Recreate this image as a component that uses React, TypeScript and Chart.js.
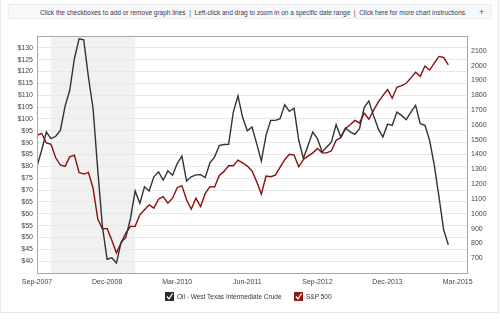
import React, { useEffect, useRef } from "react";
import { Chart, registerables } from "chart.js";

Chart.register(...registerables);

// month index 0 = Sep-2007, monthly to Jan-2015
const xTickMonths = [0, 15, 30, 45, 60, 75, 90];
const xTickLabels = ["Sep-2007", "Dec-2008", "Mar-2010", "Jun-2011", "Sep-2012", "Dec-2013", "Mar-2015"];

const oilPrices = [
  80.1, 86.8, 94.5, 91.7, 92.7, 95.2, 105.3, 112.1, 125.4, 133.8,
  133.4, 117.7, 104.3, 78.4, 54.6, 40.8, 41.4, 39.2, 48.0, 50.0,
  58.0, 69.6, 64.4, 71.4, 69.6, 75.6, 77.7, 74.2, 78.1, 76.2,
  81.2, 84.3, 73.8, 75.6, 76.4, 76.5, 75.3, 81.5, 84.0, 88.8,
  89.2, 89.3, 102.9, 109.7, 100.6, 95.0, 96.6, 89.6, 82.2, 93.1,
  99.4, 99.4, 100.1, 106.0, 103.2, 104.5, 91.0, 83.3, 88.9, 94.5,
  91.7, 86.1, 88.2, 90.3, 97.6, 92.4, 96.2, 94.5, 93.5, 95.9,
  104.8, 107.6, 101.5, 95.9, 92.4, 97.8, 97.3, 102.9, 101.5, 99.7,
  102.9, 105.7, 98.0, 97.3, 91.0, 80.5, 67.2, 53.2, 46.9,
];

const sp500 = [
  1530, 1543, 1478, 1469, 1378, 1329, 1320, 1384, 1396, 1279,
  1268, 1279, 1172, 966, 897, 901, 821, 736, 803, 870,
  915, 915, 993, 1027, 1060, 1038, 1098, 1116, 1071, 1105,
  1176, 1190, 1094, 1031, 1105, 1049, 1138, 1183, 1181, 1259,
  1286, 1324, 1324, 1362, 1344, 1322, 1289, 1217, 1132, 1255,
  1250, 1261, 1313, 1365, 1402, 1396, 1317, 1367, 1389, 1411,
  1440, 1411, 1411, 1425, 1496, 1514, 1575, 1601, 1630, 1613,
  1680, 1638, 1698, 1753, 1798, 1838, 1780, 1854, 1865, 1881,
  1917, 1955, 1928, 1997, 1970, 2017, 2062, 2055, 2005,
];

// recession shading: Dec-2007 .. Jun-2009
const recessionStart = 3;
const recessionEnd = 21;

const FONT = "'Liberation Sans', Arial, sans-serif";

const shadePlugin = {
  id: "shade",
  beforeDraw(chart: any) {
    const { ctx, chartArea, scales } = chart;
    const x0 = scales.x.getPixelForValue(recessionStart);
    const x1 = scales.x.getPixelForValue(recessionEnd);
    ctx.save();
    ctx.fillStyle = "#f1f1f1";
    ctx.fillRect(x0, chartArea.top, x1 - x0, chartArea.bottom - chartArea.top);
    ctx.restore();
  },
  afterDraw(chart: any) {
    const { ctx, chartArea } = chart;
    ctx.save();
    ctx.strokeStyle = "#a8a8a8";
    ctx.lineWidth = 1;
    ctx.strokeRect(
      Math.round(chartArea.left) + 0.5,
      Math.round(chartArea.top) + 0.5,
      Math.round(chartArea.right - chartArea.left),
      Math.round(chartArea.bottom - chartArea.top)
    );
    ctx.restore();
  },
};

function Check({ color, left }: { color: string; left: number }) {
  return (
    <svg
      width={9}
      height={9}
      style={{ position: "absolute", left, top: 292 }}
      viewBox="0 0 9 9"
    >
      <rect x={0} y={0} width={9} height={9} fill={color} />
      <polyline points="2,4.5 4,7 7.5,1.5" fill="none" stroke="#fff" strokeWidth={1.3} />
    </svg>
  );
}

export default function App() {
  const ref = useRef<HTMLCanvasElement | null>(null);

  useEffect(() => {
    if (!ref.current) return;
    const tickFont = { family: FONT, size: 7 };
    const chart = new Chart(ref.current, {
      type: "line",
      data: {
        datasets: [
          {
            label: "Oil - West Texas Intermediate Crude",
            data: oilPrices.map((v, i) => ({ x: i, y: v })),
            borderColor: "#333333",
            borderWidth: 1.4,
            pointRadius: 0,
            tension: 0,
            yAxisID: "y",
          },
          {
            label: "S&P 500",
            data: sp500.map((v, i) => ({ x: i, y: v })),
            borderColor: "#8b0e0e",
            borderWidth: 1.4,
            pointRadius: 0,
            tension: 0,
            yAxisID: "y2",
          },
        ],
      },
      options: {
        animation: false,
        responsive: false,
        maintainAspectRatio: false,
        layout: { padding: { top: 36, left: 0, right: 0, bottom: 0 } },
        plugins: {
          legend: { display: false },
          tooltip: { enabled: false },
        },
        scales: {
          x: {
            type: "linear",
            min: 0,
            max: 92,
            grid: { display: false, drawTicks: false },
            border: { display: false },
            afterBuildTicks: (scale: any) => {
              scale.ticks = xTickMonths.map((v) => ({ value: v }));
            },
            afterFit: (scale: any) => {
              scale.height = 48;
            },
            ticks: {
              font: tickFont,
              color: "#444",
              padding: 5,
              maxRotation: 0,
              autoSkip: false,
              callback: (v: any) => {
                const i = xTickMonths.indexOf(Number(v));
                return i >= 0 ? xTickLabels[i] : "";
              },
            },
          },
          y: {
            position: "left",
            min: 35,
            max: 135,
            grid: { color: "#e8e8e8", lineWidth: 1, drawTicks: false },
            border: { display: false },
            afterFit: (scale: any) => {
              scale.width = 37;
            },
            ticks: {
              stepSize: 5,
              font: tickFont,
              color: "#444",
              padding: 4,
              autoSkip: false,
              callback: (v: any) => (v === 35 || v === 135 ? "" : "$" + v),
            },
          },
          y2: {
            position: "right",
            min: 600,
            max: 2200,
            grid: { display: false, drawTicks: false },
            border: { display: false },
            afterFit: (scale: any) => {
              scale.width = 33;
            },
            ticks: {
              stepSize: 100,
              font: tickFont,
              color: "#444",
              padding: 4,
              autoSkip: false,
              callback: (v: any) => (v === 600 || v === 2200 ? "" : String(v)),
            },
          },
        },
      },
      plugins: [shadePlugin],
    } as any);
    return () => chart.destroy();
  }, []);

  return (
    <div
      style={{
        position: "fixed",
        left: 0,
        top: 0,
        width: 500,
        height: 321,
        background: "#fff",
        fontFamily: FONT,
        overflow: "hidden",
      }}
    >
      <div
        style={{
          position: "absolute",
          left: 0,
          top: 0,
          width: 497,
          height: 312,
          border: "1px solid #e9e9e9",
          borderTop: "none",
        }}
      />
      <div
        style={{
          position: "absolute",
          left: 8,
          top: 4,
          width: 484,
          height: 15,
          background: "#f7f8fa",
          border: "1px solid #ececee",
          boxSizing: "border-box",
        }}
      />
      <div
        style={{
          position: "absolute",
          left: 40,
          top: 8,
          width: 430,
          fontSize: 6.5,
          lineHeight: "9px",
          color: "#3a3a50",
          whiteSpace: "nowrap",
        }}
      >
        Click the checkboxes to add or remove graph lines&nbsp; | &nbsp;Left-click and drag to zoom in on a specific date range&nbsp; | &nbsp;Click here for more chart instructions.
      </div>
      <div
        style={{
          position: "absolute",
          left: 479,
          top: 6,
          fontSize: 9,
          lineHeight: "12px",
          color: "#555",
        }}
      >
        +
      </div>
      <canvas
        ref={ref}
        width={500}
        height={321}
        style={{ position: "absolute", left: 0, top: 0, width: 500, height: 321 }}
      />
      <Check color="#2b2b2b" left={165} />
      <div
        style={{
          position: "absolute",
          left: 177,
          top: 292,
          fontSize: 6.5,
          lineHeight: "9px",
          color: "#333",
          whiteSpace: "nowrap",
        }}
      >
        Oil - West Texas Intermediate Crude
      </div>
      <Check color="#8b1a1a" left={294} />
      <div
        style={{
          position: "absolute",
          left: 306,
          top: 292,
          fontSize: 6.5,
          lineHeight: "9px",
          color: "#333",
          whiteSpace: "nowrap",
        }}
      >
        S&amp;P 500
      </div>
    </div>
  );
}
